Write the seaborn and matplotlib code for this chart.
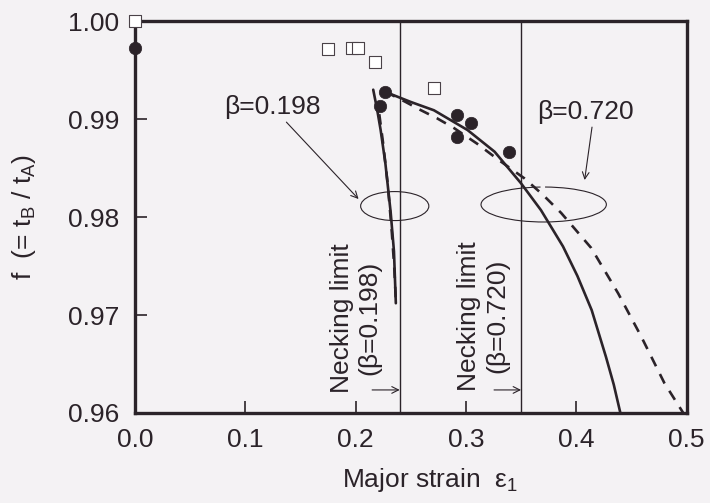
import numpy as np
import pandas as pd
import matplotlib
matplotlib.use('Agg')
import matplotlib.pyplot as plt
from matplotlib.patches import Ellipse, Arc
import seaborn as sns

sns.set_style("ticks")
plt.rcParams['font.family'] = ['Liberation Sans', 'DejaVu Sans']
plt.rcParams['mathtext.fontset'] = 'custom'
plt.rcParams['mathtext.rm'] = 'Liberation Sans'

# measured points
open_x = [0.0, 0.175, 0.197, 0.202, 0.218, 0.271]
open_f = [1.000, 0.9972, 0.9973, 0.9973, 0.99585, 0.99313]
filled_x = [0.0, 0.222, 0.227, 0.292, 0.3045, 0.292, 0.339]
filled_f = [0.99724, 0.99133, 0.99279, 0.99041, 0.98962, 0.98813, 0.98667]

# calculated curves
b198_solid_x = [0.216, 0.2195, 0.2227, 0.227, 0.2318, 0.2348, 0.2365]
b198_solid_f = [0.9930, 0.9910, 0.9889, 0.9855, 0.9805, 0.9765, 0.9712]
b198_dash_x = [0.2215, 0.225, 0.229, 0.2325, 0.235, 0.2365]
b198_dash_f = [0.9905, 0.9875, 0.9835, 0.9790, 0.9750, 0.9715]
b720_solid_x = [0.227, 0.232, 0.250, 0.271, 0.3015, 0.326, 0.350, 0.368,
                0.388, 0.401, 0.414, 0.427, 0.434, 0.440]
b720_solid_f = [0.9928, 0.99255, 0.99175, 0.9909, 0.98888, 0.98667, 0.98344, 0.98071,
                0.9770, 0.9740, 0.9705, 0.9657, 0.9629, 0.9600]
b720_dash_x = [0.227, 0.245, 0.259, 0.274, 0.289, 0.310, 0.330, 0.353, 0.370,
               0.3864, 0.4136, 0.438, 0.459, 0.480, 0.497]
b720_dash_f = [0.9928, 0.99177, 0.99092, 0.99007, 0.9891, 0.9875, 0.9858, 0.98395, 0.98225,
               0.98041, 0.97684, 0.97221, 0.96778, 0.96303, 0.9600]

necking_limits = [0.24, 0.35]
x_ticks = [0.0, 0.1, 0.2, 0.3, 0.4, 0.5]
y_ticks = [0.96, 0.97, 0.98, 0.99, 1.00]

ink = '#2b2329'
bg = '#f4f2f4'

fig = plt.figure(figsize=(7.1, 5.03), dpi=100, facecolor=bg)
ax = fig.add_axes([0.190, 0.179, 0.777, 0.779])
ax.set_facecolor(bg)

for x0 in necking_limits:
    ax.axvline(x0, color=ink, lw=1.0, zorder=1)

curves = [
    (b198_solid_x, b198_solid_f, '-'),
    (b198_dash_x, b198_dash_f, (0, (4, 3.3))),
    (b720_solid_x, b720_solid_f, '-'),
    (b720_dash_x, b720_dash_f, (0, (4, 3.3))),
]
for cx, cf, ls in curves:
    sns.lineplot(x=cx, y=cf, ax=ax, sort=False, estimator=None,
                 color=ink, lw=1.9, linestyle=ls, zorder=2)

sns.scatterplot(x=open_x, y=open_f, ax=ax, marker='s', s=72,
                facecolor='white', edgecolor='#4a4248', linewidth=0.8,
                zorder=4, clip_on=False)
sns.scatterplot(x=filled_x, y=filled_f, ax=ax, marker='o', s=80,
                color=ink, edgecolor=ink, linewidth=0.5, zorder=5, clip_on=False)

# ellipses marking the curve pairs
ax.add_patch(Ellipse((0.2355, 0.98112), 0.0618, 0.00296, fill=False,
                     edgecolor=ink, lw=0.8, zorder=3))
ax.add_patch(Arc((0.3705, 0.98128), 0.1136, 0.00357, theta1=148, theta2=55,
                 edgecolor=ink, lw=0.8, zorder=3))

arrow = dict(arrowstyle='->', color=ink, lw=0.8, shrinkA=0, shrinkB=0,
             mutation_scale=12)
ax.text(0.1245, 0.99122, 'β=0.198', fontsize=19, color=ink,
        ha='center', va='center')
ax.annotate('', xy=(0.2027, 0.98184), xytext=(0.1373, 0.98969), arrowprops=arrow)
ax.text(0.408, 0.99071, 'β=0.720', fontsize=19, color=ink,
        ha='center', va='center')
ax.annotate('', xy=(0.4076, 0.98378), xytext=(0.4143, 0.98918), arrowprops=arrow)

ax.text(0.2, 0.9697, 'Necking limit\n(β=0.198)', rotation=90, fontsize=19,
        color=ink, ha='center', va='center', linespacing=1.2, multialignment='center')
ax.text(0.3155, 0.9699, 'Necking limit\n(β=0.720)', rotation=90, fontsize=19,
        color=ink, ha='center', va='center', linespacing=1.2, multialignment='center')
ax.annotate('', xy=(0.24, 0.96235), xytext=(0.215, 0.96235), arrowprops=arrow)
ax.annotate('', xy=(0.35, 0.96235), xytext=(0.3255, 0.96235), arrowprops=arrow)

ax.set_xlim(0, 0.5)
ax.set_ylim(0.96, 1.00)
ax.set_xticks(x_ticks)
ax.set_yticks(y_ticks)
ax.set_xticklabels([f'{v:.1f}' for v in x_ticks])
ax.set_yticklabels([f'{v:.2f}' for v in y_ticks])
ax.tick_params(direction='in', length=8.5, width=1.2, labelsize=19,
               colors=ink, pad=11)
for sp in ax.spines.values():
    sp.set_visible(True)
    sp.set_linewidth(2.4)
    sp.set_color(ink)

ax.set_xlabel('Major strain  ε$_\\mathregular{1}$', fontsize=19, color=ink)
ax.xaxis.set_label_coords(0.534, -0.135)
ax.set_ylabel('f  (= t$_\\mathregular{B}$ / t$_\\mathregular{A}$)', fontsize=19, color=ink)
ax.yaxis.set_label_coords(-0.175, 0.5)

fig.savefig('out.png', dpi=100, facecolor=bg)
